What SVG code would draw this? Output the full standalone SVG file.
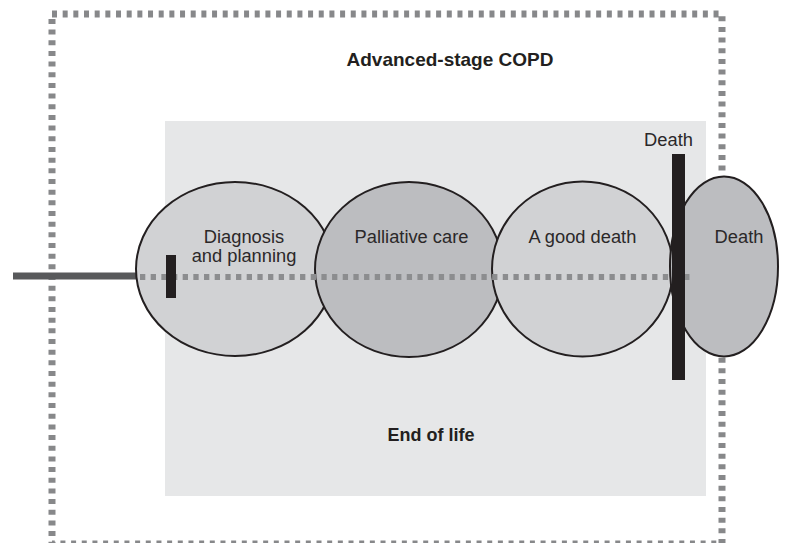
<svg xmlns="http://www.w3.org/2000/svg" width="792" height="543" viewBox="0 0 792 543">
  <style>
    .frame { fill: none; stroke: #87888a; stroke-width: 7; stroke-dasharray: 5 5.67; }
    .zone { fill: #e6e7e8; }
    .stage { stroke: #231f20; stroke-width: 2; }
    .light { fill: #d1d2d4; }
    .dark { fill: #bcbdc0; }
    .bar { fill: #231f20; }
    .lbl { font-family: "Liberation Sans", Arial, Helvetica, sans-serif; font-size: 18.3px; fill: #2b2829; text-anchor: middle; }
    .title { font-family: "Liberation Sans", Arial, Helvetica, sans-serif; font-weight: bold; fill: #231f20; text-anchor: middle; }
    .track { stroke: #58595b; stroke-width: 7; fill: none; }
    .future { stroke: #8c8d8f; stroke-width: 6; stroke-dasharray: 5.3 5.37; fill: none; }
  </style>

  <!-- outer boundary: advanced-stage COPD -->
  <g id="advanced-stage">
    <rect class="frame" x="52" y="14" width="670" height="530"/>
    <text class="title" x="450" y="66" font-size="19">Advanced-stage COPD</text>
  </g>

  <!-- inner shaded zone: end of life -->
  <g id="end-of-life">
    <rect class="zone" x="165" y="121" width="541" height="375"/>
    <text class="title" x="431" y="441" font-size="18">End of life</text>
  </g>

  <!-- disease trajectory line -->
  <g id="connectors">
    <line class="track" x1="13" y1="276" x2="137" y2="276"/>
  </g>

  <!-- stages along the trajectory -->
  <g id="diagnosis">
    <ellipse class="stage light" cx="235" cy="269" rx="99" ry="87"/>
  </g>
  <g id="palliative-care">
    <ellipse class="stage dark" cx="409" cy="269.5" rx="94" ry="87.5"/>
  </g>
  <g id="good-death">
    <ellipse class="stage light" cx="582.5" cy="269" rx="90.5" ry="87.5"/>
  </g>
  <g id="death">
    <ellipse class="stage dark" cx="724" cy="266.5" rx="54" ry="90"/>
  </g>

  <!-- dotted continuation of the trajectory -->
  <g id="trajectory">
    <line class="future" x1="140" y1="277" x2="690" y2="277"/>
  </g>

  <!-- stage labels -->
  <g id="labels">
    <text class="lbl" x="244" y="243">Diagnosis</text>
    <text class="lbl" x="244" y="262">and planning</text>
    <text class="lbl" x="411.5" y="243">Palliative care</text>
    <text class="lbl" x="582.5" y="243">A good death</text>
    <text class="lbl" x="739" y="243">Death</text>
  </g>

  <!-- markers: start of end-of-life care and the point of death -->
  <g id="start-marker">
    <rect class="bar" x="166" y="255" width="10" height="43"/>
  </g>
  <g id="death-marker">
    <rect class="bar" x="672" y="154" width="13" height="226"/>
    <text class="lbl" x="668.5" y="146">Death</text>
  </g>
</svg>
